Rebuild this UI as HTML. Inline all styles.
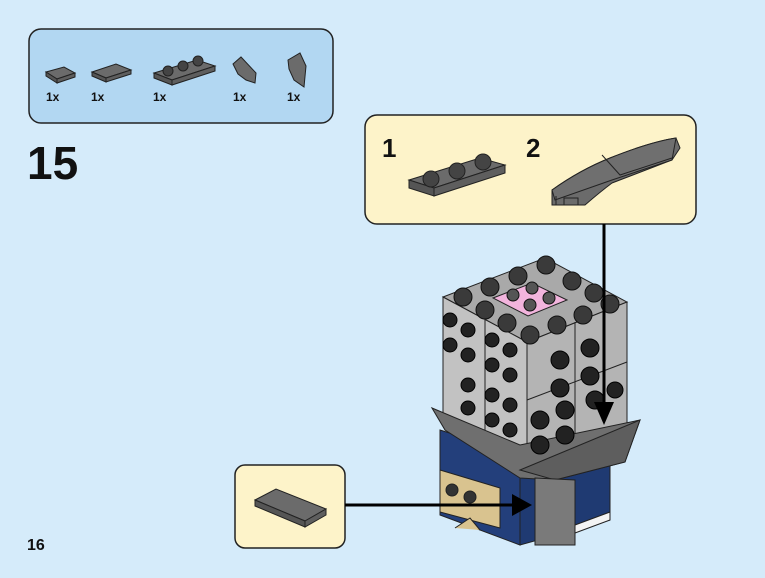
<!DOCTYPE html>
<html><head><style>
body{margin:0;background:#d5ebfa;}
svg{display:block}
text{font-family:"Liberation Sans",Arial,sans-serif;font-weight:bold}
</style></head><body>
<svg width="765" height="578" viewBox="0 0 765 578" xmlns="http://www.w3.org/2000/svg">
<rect width="765" height="578" fill="#d5ebfa"/>
<rect x="29" y="29" width="304" height="94" rx="12" fill="#b2d7f2" stroke="#222" stroke-width="1.5"/>
<g stroke="#222" stroke-width="1" fill="#6b6b6b">
<polygon points="46,72 64,67 75,73 57,79"/><polygon points="46,72 57,79 57,83 46,76" fill="#555"/><polygon points="57,79 75,73 75,77 57,83" fill="#5e5e5e"/>
<polygon points="92,72 116,64 131,70 106,78"/><polygon points="92,72 106,78 106,82 92,76" fill="#555"/><polygon points="106,78 131,70 131,74 106,82" fill="#5e5e5e"/>
<polygon points="154,73 197,60 215,66 172,80"/><polygon points="154,73 172,80 172,85 154,78" fill="#555"/><polygon points="172,80 215,66 215,71 172,85" fill="#5e5e5e"/>
<circle cx="168" cy="71" r="5" fill="#444"/><circle cx="183" cy="66" r="5" fill="#444"/><circle cx="198" cy="61" r="5" fill="#444"/>
<polygon points="233,64 241,57 256,73 255,83 246,80 238,74"/>
<polygon points="288,60 300,53 306,66 304,87 294,80 289,69"/>
</g>
<g font-size="12" fill="#111"><text x="46" y="101">1x</text><text x="91" y="101">1x</text><text x="153" y="101">1x</text><text x="233" y="101">1x</text><text x="287" y="101">1x</text></g>
<text x="27" y="179" font-size="46" fill="#111">15</text>
<text x="27" y="550" font-size="16" fill="#111">16</text>
<rect x="365" y="115" width="331" height="109" rx="12" fill="#fdf3c9" stroke="#222" stroke-width="1.5"/>
<text x="382" y="157" font-size="26" fill="#111">1</text>
<text x="526" y="157" font-size="26" fill="#111">2</text>
<g stroke="#222" stroke-width="1" fill="#6b6b6b">
<polygon points="409,180 480,158 505,165 434,188"/><polygon points="409,180 434,188 434,196 409,188" fill="#555"/><polygon points="434,188 505,165 505,173 434,196" fill="#5e5e5e"/>
<circle cx="431" cy="179" r="8" fill="#444"/><circle cx="457" cy="171" r="8" fill="#444"/><circle cx="483" cy="162" r="8" fill="#444"/>
<path d="M552,190 Q580,170 610,158 Q650,142 676,138 L680,148 L672,160 L612,183 Q600,192 585,205 L552,205 Z"/>
<path d="M552,190 Q580,170 610,158 Q650,142 676,138 L672,160 L612,180 L555,200 Z" fill="#6f6f6f"/>
<path d="M602,155 L620,175 L672,158" fill="none"/>
<path d="M556,196 L556,205 L564,205 L564,198 L578,198 L578,205" fill="none"/>
</g>
<rect x="235" y="465" width="110" height="83" rx="10" fill="#fdf3c9" stroke="#222" stroke-width="1.5"/>
<g stroke="#222" stroke-width="1">
<polygon points="255,500 276,489 326,509 305,521" fill="#6b6b6b"/>
<polygon points="255,500 305,521 305,527 255,506" fill="#555"/>
<polygon points="305,521 326,509 326,515 305,527" fill="#5e5e5e"/>
</g>
<g stroke="#222" stroke-width="1">
<polygon points="440,430 520,455 520,545 440,515" fill="#233f7b"/>
<polygon points="520,455 610,430 610,520 520,545" fill="#1f3a72"/>
<polygon points="575,525 610,512 610,520 575,533" fill="#f4f4f4"/>
<polygon points="440,470 500,488 500,528 440,512" fill="#d9c38f"/>
<circle cx="452" cy="490" r="6" fill="#333"/><circle cx="470" cy="497" r="6" fill="#333"/>
<path d="M455,528 L470,518 L480,530" fill="#d9c38f"/>
<polygon points="443,297 545,258 627,302 527,342" fill="#a9a9a9"/>
<polygon points="493,298 532,283 567,300 528,316" fill="#f2b4dd"/>
<polygon points="443,297 527,342 527,465 443,420" fill="#c2c2c2"/>
<polygon points="527,342 627,302 627,425 527,465" fill="#b4b4b4"/>
<line x1="485" y1="320" x2="485" y2="440"/><line x1="575" y1="322" x2="575" y2="445"/><line x1="527" y1="400" x2="627" y2="362"/>
<polygon points="432,408 520,445 640,420 625,462 555,480 520,478 445,430" fill="#6f6f6f"/>
<polygon points="520,470 640,420 625,462 555,480" fill="#5e5e5e"/>
<polygon points="535,478 575,480 575,545 535,545" fill="#7a7a7a"/>
</g>
<g fill="#3a3a3a" stroke="#111" stroke-width="1">
<circle cx="463" cy="297" r="9"/><circle cx="490" cy="287" r="9"/><circle cx="518" cy="276" r="9"/><circle cx="546" cy="265" r="9"/>
<circle cx="485" cy="310" r="9"/><circle cx="572" cy="281" r="9"/>
<circle cx="507" cy="323" r="9"/><circle cx="594" cy="293" r="9"/>
<circle cx="530" cy="335" r="9"/><circle cx="557" cy="325" r="9"/><circle cx="583" cy="315" r="9"/><circle cx="610" cy="304" r="9"/>
<circle cx="513" cy="295" r="6" fill="#555"/><circle cx="532" cy="288" r="6" fill="#555"/><circle cx="530" cy="305" r="6" fill="#555"/><circle cx="549" cy="298" r="6" fill="#555"/>
</g>
<g fill="#222" stroke="#000" stroke-width="1">
<circle cx="450" cy="320" r="7"/><circle cx="450" cy="345" r="7"/><circle cx="468" cy="330" r="7"/><circle cx="468" cy="355" r="7"/>
<circle cx="492" cy="340" r="7"/><circle cx="492" cy="365" r="7"/><circle cx="510" cy="350" r="7"/><circle cx="510" cy="375" r="7"/>
<circle cx="468" cy="385" r="7"/><circle cx="468" cy="408" r="7"/><circle cx="492" cy="395" r="7"/><circle cx="492" cy="420" r="7"/>
<circle cx="510" cy="405" r="7"/><circle cx="510" cy="430" r="7"/>
<circle cx="560" cy="360" r="9"/><circle cx="590" cy="348" r="9"/><circle cx="560" cy="388" r="9"/><circle cx="590" cy="376" r="9"/>
<circle cx="540" cy="420" r="9"/><circle cx="565" cy="410" r="9"/><circle cx="540" cy="445" r="9"/><circle cx="565" cy="435" r="9"/>
<circle cx="595" cy="400" r="9"/><circle cx="615" cy="390" r="8"/>
</g>
<line x1="604" y1="224" x2="604" y2="405" stroke="#000" stroke-width="3"/>
<polygon points="594,402 614,402 604,425" fill="#000"/>
<line x1="345" y1="505" x2="515" y2="505" stroke="#000" stroke-width="3"/>
<polygon points="512,494 532,505 512,516" fill="#000"/>
</svg>
</body></html>
